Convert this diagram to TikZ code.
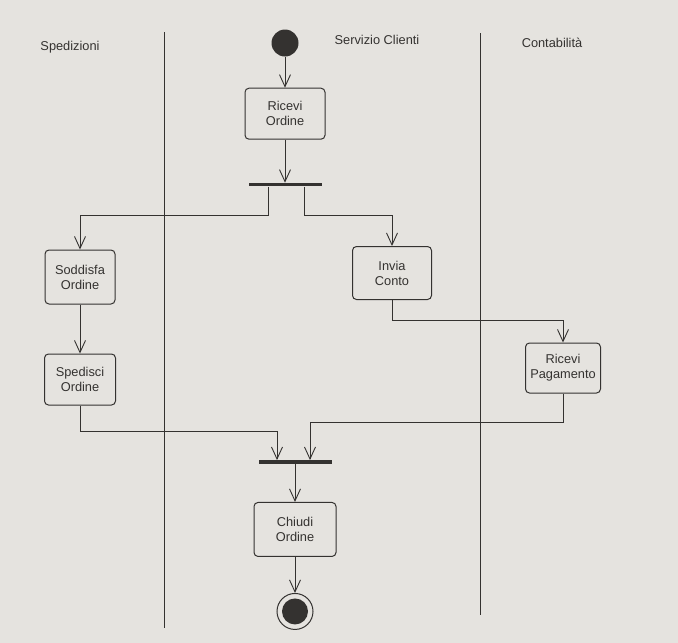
\documentclass[tikz,border=0pt]{standalone}
\usepackage{fontspec}
\setmainfont{Liberation Sans}
\usepackage{tikz}
\usetikzlibrary{positioning,arrows.meta}
\definecolor{paper}{RGB}{229,227,223}
\definecolor{ink}{RGB}{52,50,48}

\begin{document}
\begin{tikzpicture}[x=1pt, y=-1pt,
    >={Straight Barb[length=12pt,width=11pt]},
    font=\fontsize{12.8}{15}\selectfont,
    activity/.style={draw=ink, text=ink, align=center,
        rounded corners=4pt, line width=1pt, inner sep=2pt},
    bar/.style={fill=ink, minimum width=73pt,
        minimum height=3.5pt, inner sep=0pt},
    flow/.style={->, draw=ink, line width=0.9pt},
    lane/.style={draw=ink, line width=0.9pt},
    lanename/.style={text=ink}
]
    \useasboundingbox (0,0) rectangle (678,643);
    \fill[paper] (0,0) rectangle (678,643);

    % Lanes
    \draw[lane] (164,32) -- (164,628);
    \draw[lane] (480,33) -- (480,615);
    \node[lanename] (LaneSped) at (70,47) {Spedizioni};
    \node[lanename] (LaneServ) at (377,40) {Servizio Clienti};
    \node[lanename] (LaneCont) at (552,43) {Contabilità};

    % Servizio Clienti
    \node [circle,
        fill=ink,
        minimum size=27pt,
        inner sep=0pt
    ]  (Start) at (285,43) {};
    \node [activity,
        minimum width=80pt,
        minimum height=51pt,
        below=31pt of Start
    ]  (Ricevi) {Ricevi\\Ordine};
    \node [bar,
        below=43pt of Ricevi
    ]  (Fork) {};
    \node [activity,
        minimum width=79pt,
        minimum height=53pt
    ]  (Invia) at (392,273) {Invia\\Conto};

    % Spedizioni
    \node [activity,
        minimum width=70pt,
        minimum height=54pt
    ]  (Soddisfa) at (80,277) {Soddisfa\\Ordine};
    \node [activity,
        minimum width=71pt,
        minimum height=51pt,
        below=49pt of Soddisfa
    ]  (Spedisci) {Spedisci\\Ordine};

    % Contabilita
    \node [activity,
        minimum width=75pt,
        minimum height=50pt
    ]  (Pagamento) at (563,368) {Ricevi\\Pagamento};

    % Chiusura
    \node [bar] (Join) at (295,462) {};
    \node [activity,
        minimum width=82pt,
        minimum height=54pt,
        below=38pt of Join
    ]  (Chiudi) {Chiudi\\Ordine};
    \node [circle,
        draw=ink,
        line width=1pt,
        minimum size=36pt,
        inner sep=0pt,
        path picture={\fill[ink] (path picture bounding box.center) circle (13pt);},
        below=36pt of Chiudi
    ]  (End) {};

    \draw[flow] (Start) -- (Ricevi);
    \draw[flow] (Ricevi) -- (Fork);
    \draw[flow] ([xshift=-17pt]Fork.south) -- ++(0,29) -| (Soddisfa.north);
    \draw[flow] ([xshift=19pt]Fork.south) -- ++(0,29) -| (Invia.north);
    \draw[flow] (Soddisfa) -- (Spedisci);
    \draw[flow] (Invia.south) -- ++(0,20) -| (Pagamento.north);
    \draw[flow] (Spedisci.south) -- ++(0,26) -| ([xshift=-18pt]Join.north);
    \draw[flow] (Pagamento.south) -- ++(0,29) -| ([xshift=15pt]Join.north);
    \draw[flow] (Join) -- (Chiudi);
    \draw[flow] (Chiudi) -- (End);
\end{tikzpicture}
\end{document}
